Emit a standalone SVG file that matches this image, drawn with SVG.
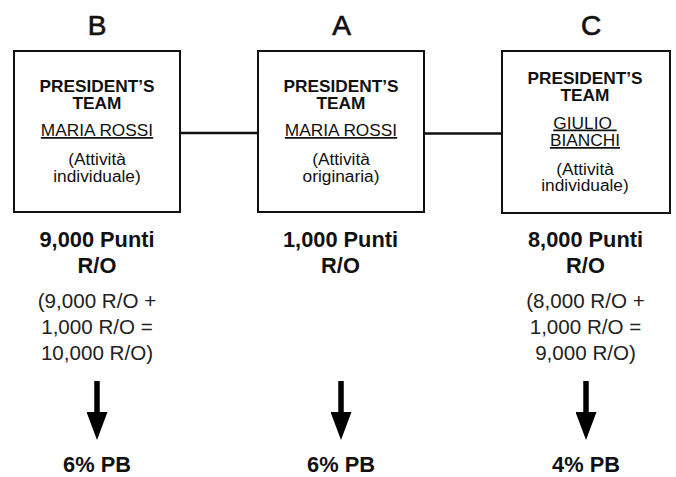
<svg xmlns="http://www.w3.org/2000/svg" width="676" height="477" viewBox="0 0 676 477">
<style>
text{font-family:"Liberation Sans",Arial,Helvetica,sans-serif;text-anchor:middle;fill:#111}
.box{fill:#fff;stroke:#111;stroke-width:2}
.lt{font-size:28px;stroke:#111;stroke-width:0.7}
.bt{font-size:17.3px;font-weight:bold}
.nm{font-size:17.3px;text-decoration:underline}
.sm{font-size:17.3px}
.pt{font-size:21.8px;font-weight:bold}
.rg{font-size:20.6px;fill:#222}
.ln{stroke:#111;stroke-width:2.5;fill:none}
.ar{stroke:#000;stroke-width:5.5;fill:none;marker-end:url(#head)}
</style>
<defs>
<marker id="head" viewBox="0 0 28 21" refX="0" refY="10.5" markerWidth="28" markerHeight="21" markerUnits="userSpaceOnUse" orient="auto">
<path d="M0,0 L28,10.5 L0,21 Z" fill="#000"/>
</marker>
</defs>
<g id="connectors">
<line class="ln" x1="181" y1="133" x2="257" y2="133"/>
<line class="ln" x1="425" y1="133.5" x2="501" y2="133.5"/>
<line class="ar" x1="97" y1="381" x2="97" y2="412"/>
<line class="ar" x1="341" y1="381" x2="341" y2="412"/>
<line class="ar" x1="586" y1="381" x2="586" y2="412"/>
</g>
<g id="nodeB">
<text class="lt" x="97" y="35">B</text>
<rect class="box" x="14" y="51" width="166" height="161"/>
<text class="bt" x="97" y="91.5">PRESIDENT’S</text>
<text class="bt" x="97" y="109">TEAM</text>
<text class="nm" x="97" y="136">MARIA ROSSI</text>
<text class="sm" x="97" y="164.5">(Attività</text>
<text class="sm" x="97" y="181.5">individuale)</text>
<text class="pt" x="97" y="246.7">9,000 Punti</text>
<text class="pt" x="97" y="273.3">R/O</text>
<text class="rg" x="97" y="307.5">(9,000 R/O +</text>
<text class="rg" x="97" y="334">1,000 R/O =</text>
<text class="rg" x="97" y="360">10,000 R/O)</text>
<text class="pt" x="97" y="471.7">6% PB</text>
</g>
<g id="nodeA">
<text class="lt" x="341.5" y="35">A</text>
<rect class="box" x="258" y="51" width="166" height="161"/>
<text class="bt" x="341" y="91.5">PRESIDENT’S</text>
<text class="bt" x="341" y="109">TEAM</text>
<text class="nm" x="341" y="136">MARIA ROSSI</text>
<text class="sm" x="341" y="164.5">(Attività</text>
<text class="sm" x="341" y="181.5">originaria)</text>
<text class="pt" x="340.5" y="246.7">1,000 Punti</text>
<text class="pt" x="340.5" y="273.3">R/O</text>
<text class="pt" x="341" y="471.7">6% PB</text>
</g>
<g id="nodeC">
<text class="lt" x="591" y="35">C</text>
<rect class="box" x="502" y="51" width="168" height="162"/>
<text class="bt" x="585" y="84">PRESIDENT’S</text>
<text class="bt" x="585" y="101">TEAM</text>
<text class="nm" x="585" y="128.5" xml:space="preserve">GIULIO </text>
<text class="nm" x="585" y="146">BIANCHI</text>
<text class="sm" x="585" y="174.5">(Attività</text>
<text class="sm" x="585" y="191">individuale)</text>
<text class="pt" x="585.5" y="246.7">8,000 Punti</text>
<text class="pt" x="585.5" y="273.3">R/O</text>
<text class="rg" x="585.5" y="307.5">(8,000 R/O +</text>
<text class="rg" x="585.5" y="334">1,000 R/O =</text>
<text class="rg" x="585.5" y="360">9,000 R/O)</text>
<text class="pt" x="586" y="471.7">4% PB</text>
</g>
</svg>
